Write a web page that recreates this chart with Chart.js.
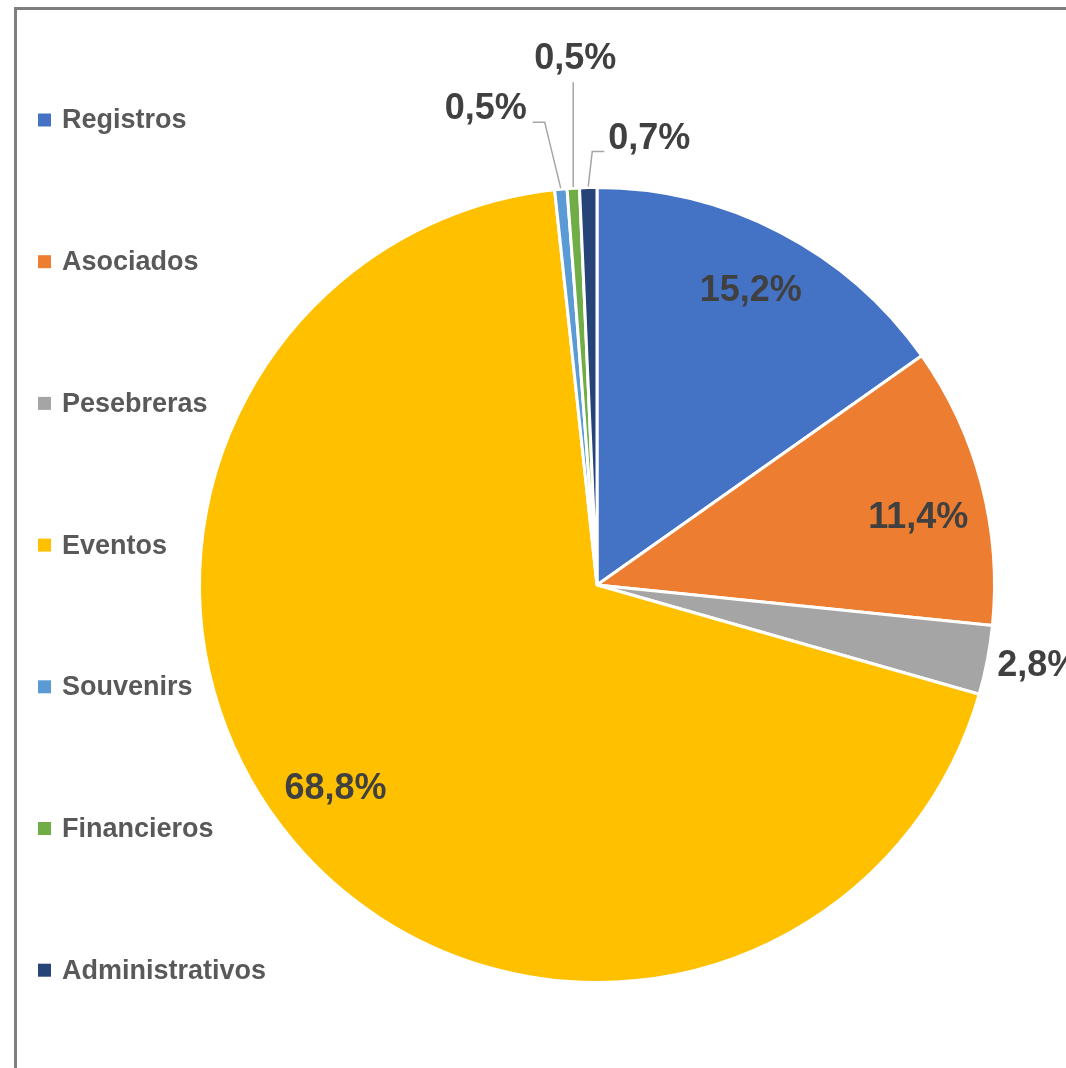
<!DOCTYPE html>
<html>
<head>
<meta charset="utf-8">
<script src="https://cdn.jsdelivr.net/npm/chart.js@4/dist/chart.umd.min.js"></script>
<style>
  html, body { margin: 0; padding: 0; background: #fff; }
  #wrap { position: relative; width: 1066px; height: 1068px; }
</style>
</head>
<body>
<div id="wrap"><canvas id="pie"></canvas></div>
<script>
// data
const categories = ["Registros", "Asociados", "Pesebreras", "Eventos", "Souvenirs", "Financieros", "Administrativos"];
const shares = [15.2, 11.4, 2.8, 68.8, 0.5, 0.5, 0.7];
const sliceColors = ["#4472C4", "#ED7D31", "#A5A5A5", "#FFC000", "#5B9BD5", "#70AD47", "#264478"];

const FONT = "'Liberation Sans', Arial, sans-serif";

// how each label is placed: inside at a fraction of radius (plus a small nudge),
// outside next to the arc, or outside with a leader line
const labelPlacement = [
    { mode: "inside", f: 0.83, nudge: [2, -1] },
    { mode: "inside", f: 0.82, nudge: [6, 16] },
    { mode: "outside", gap: 10 },
    { mode: "inside", f: 0.83, nudge: [-9, -8] },
    { mode: "leader", path: [[-16, -66], [-28, -66]], text: [-34, -79], align: "right" },
    { mode: "leader", path: [[0, -105]], text: [2, -128], align: "center" },
    { mode: "leader", path: [[4, -35], [16, -35]], text: [20, -48], align: "left" }
];

const fmt = v => v.toFixed(1).replace(".", ",") + "%";

// frame around the chart (only left/top visible in the picture)
const framePlugin = {
    id: "frame",
    beforeDraw(chart) {
        const ctx = chart.ctx;
        ctx.save();
        ctx.strokeStyle = "#7f7f7f";
        ctx.lineWidth = 3;
        ctx.beginPath();
        ctx.moveTo(15.5, chart.height + 5);
        ctx.lineTo(15.5, 8.5);
        ctx.lineTo(chart.width + 5, 8.5);
        ctx.stroke();
        ctx.restore();
    }
};

// legend drawn on the left, spread out like the Excel one
const sideLegend = {
    id: "sideLegend",
    afterDraw(chart) {
        const ctx = chart.ctx;
        const labels = chart.data.labels;
        const colors = chart.data.datasets[0].backgroundColor;
        ctx.save();
        ctx.font = "bold 27px " + FONT;
        ctx.textBaseline = "middle";
        ctx.textAlign = "left";
        labels.forEach((lab, i) => {
            const y = 120 + i * 141.7;
            ctx.fillStyle = colors[i];
            ctx.fillRect(38, y - 6.5, 13, 13);
            ctx.fillStyle = "#595959";
            ctx.fillText(lab, 62, y + 1);
        });
        ctx.restore();
    }
};

// percentage labels
const pieLabels = {
    id: "pieLabels",
    afterDatasetsDraw(chart) {
        const ctx = chart.ctx;
        const meta = chart.getDatasetMeta(0);
        const values = chart.data.datasets[0].data;
        ctx.save();
        ctx.font = "bold 36px " + FONT;
        ctx.fillStyle = "#404040";
        ctx.textBaseline = "middle";
        meta.data.forEach((arc, i) => {
            const p = arc.getProps(["x", "y", "startAngle", "endAngle", "outerRadius"], true);
            const mid = (p.startAngle + p.endAngle) / 2;
            const cos = Math.cos(mid), sin = Math.sin(mid);
            const place = labelPlacement[i];
            const txt = fmt(values[i]);
            if (place.mode === "inside") {
                const r = p.outerRadius * place.f;
                ctx.textAlign = "center";
                ctx.fillText(txt, p.x + cos * r + place.nudge[0], p.y + sin * r + place.nudge[1]);
            } else if (place.mode === "outside") {
                const r = p.outerRadius + place.gap;
                ctx.textAlign = "left";
                ctx.fillText(txt, p.x + cos * r, p.y + sin * r + 4);
            } else {
                const ax = p.x + cos * (p.outerRadius + 1);
                const ay = p.y + sin * (p.outerRadius + 1);
                ctx.save();
                ctx.strokeStyle = "#a6a6a6";
                ctx.lineWidth = 1.5;
                ctx.beginPath();
                ctx.moveTo(ax, ay);
                place.path.forEach(pt => ctx.lineTo(ax + pt[0], ay + pt[1]));
                ctx.stroke();
                ctx.restore();
                ctx.textAlign = place.align;
                ctx.fillText(txt, ax + place.text[0], ay + place.text[1]);
            }
        });
        ctx.restore();
    }
};

const ctx = document.getElementById("pie").getContext("2d");
const myChart = new Chart(ctx, {
    type: "pie",
    data: {
        labels: categories,
        datasets: [{
            data: shares,
            backgroundColor: sliceColors,
            borderColor: "#ffffff",
            borderWidth: 3
        }]
    },
    options: {
        responsive: true,
        maintainAspectRatio: false,
        animation: false,
        layout: { padding: { left: 198, right: 70, top: 186, bottom: 84 } },
        plugins: {
            legend: { display: false },
            tooltip: { enabled: false }
        }
    },
    plugins: [framePlugin, sideLegend, pieLabels]
});
</script>
</body>
</html>
